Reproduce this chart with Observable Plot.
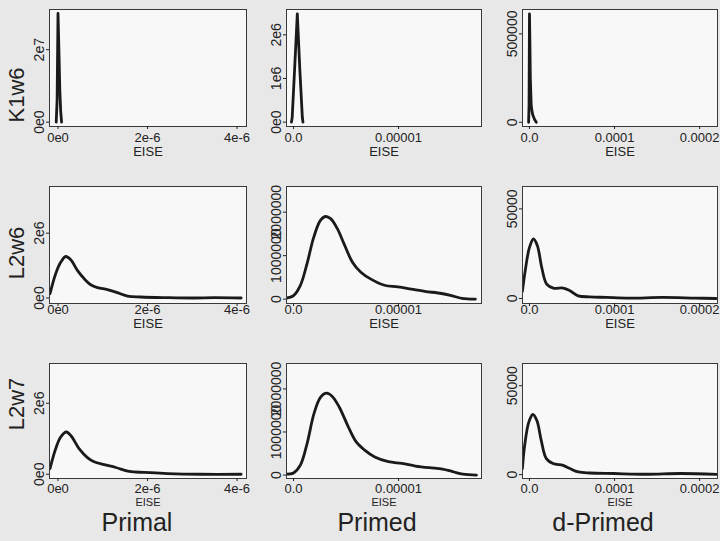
<!DOCTYPE html>
<html><head><meta charset="utf-8">
<script src="https://cdn.jsdelivr.net/npm/d3@7"></script>
<script src="https://cdn.jsdelivr.net/npm/@observablehq/plot@0.6"></script>
<style>
html,body{margin:0;padding:0;background:#e8e8e8;width:720px;height:541px;overflow:hidden;font-family:"Liberation Sans",Arial,sans-serif;}
#root{position:relative;width:720px;height:541px;}
.panel{position:absolute;}
.rowlab{position:absolute;font-size:22px;line-height:22px;color:#222;transform:translate(-50%,-50%) rotate(-90deg);white-space:nowrap;}
.collab{position:absolute;font-size:25px;line-height:25px;color:#222;transform:translateX(-50%);white-space:nowrap;}
</style></head><body><div id="root"></div><script>
// Row and column names
const rowNames = ["K1w6", "L2w6", "L2w7"];
const colNames = ["Primal", "Primed", "d-Primed"];

// x ticks per column
const xTicks = [[0, 2e-6, 4e-6], [0, 1e-5], [0, 1e-4, 2e-4]];
const xTickLabels = [["0e0", "2e-6", "4e-6"], ["0.0", "0.00001"], ["0.0", "0.0001", "0.0002"]];
const xDomains = [[-0.19e-6, 4.21e-6], [-0.067e-5, 1.79e-5], [-0.082e-4, 2.21e-4]];

// y ticks per panel [row][col]
const yTicks = [
  [[0, 2e7], [0, 1e6, 2e6], [0, 5e5]],
  [[0, 2e6], [0, 1e6, 2e6], [0, 5e4]],
  [[0, 2e6], [0, 1e6, 2e6], [0, 5e4]]
];
const yTickLabels = [
  [["0e0", "2e7"], ["0e0", "1e6", "2e6"], ["0", "500000"]],
  [["0e0", "2e6"], ["0", "1000000", "2000000"], ["0", "50000"]],
  [["0e0", "2e6"], ["0", "1000000", "2000000"], ["0", "50000"]]
];
const yDomains = [
  [[-0.12e7, 3.11e7], [-0.1e6, 2.58e6], [-0.24e5, 6.38e5]],
  [[-0.17e6, 3.44e6], [-0.1e6, 2.59e6], [-0.28e4, 6.25e4]],
  [[-0.12e6, 3.12e6], [-0.08e6, 2.59e6], [-0.22e4, 6.25e4]]
];

// Density curves (EISE vs density)
const K1w6_primal_x = [-0.04e-6, -0.02e-6, 0, 0.02e-6, 0.04e-6, 0.06e-6, 0.08e-6];
const K1w6_primal_y = [0, 0.6e7, 3.0e7, 2.0e7, 0.9e7, 0.3e7, 0];
const K1w6_primed_x = [-0.02e-5, -0.013e-5, 0.01e-5, 0.036e-5, 0.06e-5, 0.084e-5, 0.09e-5];
const K1w6_primed_y = [0, 0.1e6, 1.2e6, 2.48e6, 1.2e6, 0.1e6, 0];
const K1w6_dprimed_x = [-0.01e-4, -0.005e-4, 0, 0.005e-4, 0.01e-4, 0.02e-4, 0.03e-4, 0.04e-4, 0.06e-4, 0.08e-4];
const K1w6_dprimed_y = [0, 1.0e5, 6.13e5, 4.5e5, 2.5e5, 1.0e5, 0.6e5, 0.4e5, 0.15e5, 0];

const L2w6_primal_x = [-0.179e-6, -0.052e-6, 0.06e-6, 0.172e-6, 0.284e-6, 0.433e-6, 0.582e-6, 0.731e-6, 0.881e-6, 1.104e-6, 1.291e-6, 1.552e-6, 1.851e-6, 2.448e-6, 3.045e-6, 3.49e-6, 4.09e-6];
const L2w6_primal_y = [0.13e6, 0.75e6, 1.1e6, 1.28e6, 1.18e6, 0.85e6, 0.6e6, 0.41e6, 0.32e6, 0.26e6, 0.18e6, 0.06e6, 0.03e6, 0.01e6, 0.0, 0.01e6, 0.0];
const L2w6_primed_x = [-0.074e-5, 0, 0.064e-5, 0.128e-5, 0.192e-5, 0.256e-5, 0.304e-5, 0.353e-5, 0.417e-5, 0.481e-5, 0.561e-5, 0.641e-5, 0.737e-5, 0.865e-5, 0.994e-5, 1.122e-5, 1.25e-5, 1.41e-5, 1.506e-5, 1.603e-5, 1.731e-5];
const L2w6_primed_y = [0.02e6, 0.08e6, 0.31e6, 0.81e6, 1.42e6, 1.81e6, 1.9e6, 1.85e6, 1.62e6, 1.27e6, 0.85e6, 0.62e6, 0.46e6, 0.32e6, 0.28e6, 0.23e6, 0.18e6, 0.13e6, 0.08e6, 0.02e6, 0];
const L2w6_dprimed_x = [-0.083e-4, -0.05e-4, 0, 0.047e-4, 0.093e-4, 0.144e-4, 0.202e-4, 0.28e-4, 0.397e-4, 0.475e-4, 0.572e-4, 0.708e-4, 0.903e-4, 1.175e-4, 1.564e-4, 1.953e-4, 2.195e-4];
const L2w6_dprimed_y = [0.4e4, 1.55e4, 2.85e4, 3.32e4, 2.95e4, 1.73e4, 0.8e4, 0.58e4, 0.58e4, 0.43e4, 0.15e4, 0.09e4, 0.06e4, 0.02e4, 0.06e4, 0.02e4, 0];

const L2w7_primal_x = [-0.179e-6, -0.052e-6, 0.06e-6, 0.187e-6, 0.299e-6, 0.47e-6, 0.657e-6, 0.806e-6, 1.03e-6, 1.291e-6, 1.59e-6, 1.925e-6, 2.45e-6, 3.19e-6, 4.09e-6];
const L2w7_primal_y = [0.16e6, 0.72e6, 1.05e6, 1.19e6, 1.07e6, 0.72e6, 0.47e6, 0.35e6, 0.27e6, 0.19e6, 0.08e6, 0.05e6, 0.02e6, 0.0, 0.0];
const L2w7_primed_x = [-0.074e-5, 0, 0.065e-5, 0.129e-5, 0.194e-5, 0.258e-5, 0.316e-5, 0.371e-5, 0.435e-5, 0.516e-5, 0.597e-5, 0.677e-5, 0.774e-5, 0.903e-5, 1.032e-5, 1.161e-5, 1.29e-5, 1.419e-5, 1.516e-5, 1.613e-5, 1.742e-5];
const L2w7_primed_y = [0.02e6, 0.05e6, 0.23e6, 0.73e6, 1.42e6, 1.81e6, 1.9e6, 1.82e6, 1.58e6, 1.15e6, 0.77e6, 0.58e6, 0.42e6, 0.31e6, 0.27e6, 0.21e6, 0.17e6, 0.14e6, 0.08e6, 0.02e6, 0];
const L2w7_dprimed_x = [-0.083e-4, -0.059e-4, -0.008e-4, 0.04e-4, 0.087e-4, 0.138e-4, 0.198e-4, 0.277e-4, 0.395e-4, 0.474e-4, 0.573e-4, 0.711e-4, 0.988e-4, 1.383e-4, 1.779e-4, 2.253e-4];
const L2w7_dprimed_y = [0.34e4, 1.55e4, 2.95e4, 3.38e4, 3.04e4, 1.92e4, 0.9e4, 0.62e4, 0.52e4, 0.34e4, 0.15e4, 0.09e4, 0.06e4, 0.02e4, 0.06e4, 0];

const series = [
  [[K1w6_primal_x, K1w6_primal_y], [K1w6_primed_x, K1w6_primed_y], [K1w6_dprimed_x, K1w6_dprimed_y]],
  [[L2w6_primal_x, L2w6_primal_y], [L2w6_primed_x, L2w6_primed_y], [L2w6_dprimed_x, L2w6_dprimed_y]],
  [[L2w7_primal_x, L2w7_primal_y], [L2w7_primed_x, L2w7_primed_y], [L2w7_dprimed_x, L2w7_dprimed_y]]
];

// layout
const colLefts = [49, 286, 522];
const colWidths = [197, 195, 195];
const rowTops = [9, 186, 363];
const rowHeights = [117, 117, 115];
const rowLabelY = [94.5, 252.5, 404];
const colLabelX = [137, 377, 603];
const xTickPad = [3, -2, 2];
const eiseDy = [29, 24, 27];
const eiseSize = [13, 13, 11];

const root = document.getElementById("root");
const FONT = "'Liberation Sans', Arial, sans-serif";

for (let r = 0; r < 3; r++) {
  for (let c = 0; c < 3; c++) {
    const [xs, ys] = series[r][c];
    const data = xs.map((x, i) => ({x, y: ys[i]}));
    const ml = 44, mr = 3, mt = 4, mb = 40;
    const xt = xTicks[c], xl = xTickLabels[c];
    const yt = yTicks[r][c], yl = yTickLabels[r][c];
    const chart = Plot.plot({
      width: colWidths[c] + ml + mr,
      height: rowHeights[r] + mt + mb,
      marginLeft: ml, marginRight: mr, marginTop: mt, marginBottom: mb,
      style: {background: "transparent", fontFamily: FONT, fontSize: "13px", color: "#222", overflow: "visible"},
      x: {domain: xDomains[c]},
      y: {domain: yDomains[r][c]},
      marks: [
        Plot.frame({fill: "#f8f8f8", stroke: null}),
        Plot.line(data, {x: "x", y: "y", stroke: "#1a1a1a", strokeWidth: 2.8, curve: r === 0 ? "linear" : "catmull-rom", clip: true}),
        Plot.frame({stroke: "#3a3a3a", strokeWidth: 1}),
        Plot.axisX({ticks: xt, tickFormat: d => xl[xt.indexOf(d)], tickSize: 3, tickPadding: xTickPad[r], label: null, fontSize: 13}),
        Plot.axisY({ticks: yt, tickFormat: d => yl[yt.indexOf(d)], tickRotate: -90, tickSize: 3, tickPadding: 3, label: null, fontSize: 14}),
        Plot.text(["EISE"], {frameAnchor: "bottom", dy: eiseDy[r], fontSize: eiseSize[r], fill: "#222"})
      ]
    });
    const div = document.createElement("div");
    div.className = "panel";
    div.style.left = (colLefts[c] - ml) + "px";
    div.style.top = (rowTops[r] - mt) + "px";
    div.appendChild(chart);
    root.appendChild(div);
  }
}

rowNames.forEach((name, r) => {
  const d = document.createElement("div");
  d.className = "rowlab";
  d.textContent = name;
  d.style.left = "17px";
  d.style.top = rowLabelY[r] + "px";
  root.appendChild(d);
});
colNames.forEach((name, c) => {
  const d = document.createElement("div");
  d.className = "collab";
  d.textContent = name;
  d.style.left = colLabelX[c] + "px";
  d.style.top = "510px";
  root.appendChild(d);
});
</script></body></html>
